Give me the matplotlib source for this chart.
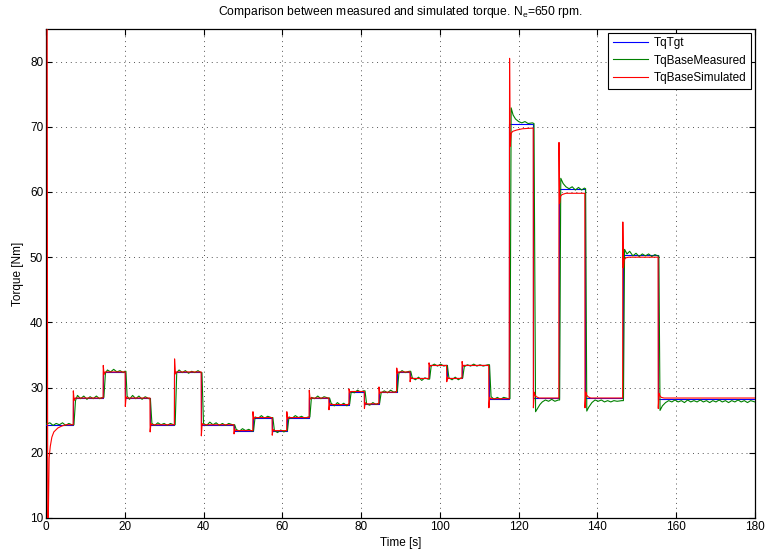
import matplotlib
matplotlib.use('Agg')
import matplotlib.pyplot as plt

plt.rcParams['font.family'] = ['Liberation Sans', 'DejaVu Sans']
plt.rcParams['mathtext.fontset'] = 'custom'
plt.rcParams['mathtext.rm'] = 'Liberation Sans'

# target torque: step times [s] and levels [Nm]
tgt_time = [0, 6.85, 14.5, 20.1, 26.4, 32.6, 39.4, 47.7, 52.5, 57.4, 61.1, 66.8, 71.8, 76.9,
            80.8, 84.5, 89.0, 92.4, 97.2, 101.7, 105.6, 112.4, 117.6, 123.7, 130.2, 136.8,
            146.4, 155.4, 180]
tgt_level = [24.3, 28.4, 32.4, 28.4, 24.3, 32.4, 24.3, 23.4, 25.4, 23.4, 25.4, 28.4, 27.4, 29.4,
             27.5, 29.3, 32.4, 31.4, 33.4, 31.4, 33.4, 28.3, 70.4, 28.4, 60.4, 28.4,
             50.4, 28.3, 28.3]

# measured torque
meas_time = [0, 1, 1.8, 2.6, 3.4, 4.2, 5, 5.8, 6.6, 7.1, 7.5, 8, 8.8, 9.6, 10.4, 11.2, 12, 12.8, 13.6, 14.4,
             14.7, 15.1, 15.6, 16.4, 17.2, 18, 18.8, 19.6, 20.0,
             20.3, 20.6, 21.2, 22, 22.8, 23.6, 24.4, 25.2, 26.1,
             26.5, 26.9, 27.6, 28.4, 29.2, 30, 30.8, 31.6, 32.4,
             32.8, 33.2, 33.8, 34.6, 35.4, 36.2, 37, 37.8, 38.6, 39.3,
             39.6, 40, 40.8, 41.6, 42.4, 43.2, 44, 44.8, 45.6, 46.4, 47.4,
             47.9, 48.3, 49.1, 49.9, 50.7, 51.5, 52.3,
             52.7, 53.1, 53.9, 54.7, 55.5, 56.3, 57.2,
             57.6, 58, 58.8, 59.6, 60.4, 61,
             61.3, 61.7, 62.5, 63.3, 64.1, 64.9, 65.7, 66.6,
             67, 67.4, 68.2, 69, 69.8, 70.6, 71.6,
             72, 72.4, 73.2, 74, 74.8, 75.6, 76.4, 76.8,
             77.1, 77.5, 78.3, 79.1, 79.9, 80.6,
             81, 81.4, 82.2, 83, 83.8, 84.4,
             84.7, 85.1, 85.9, 86.7, 87.5, 88.3, 88.9,
             89.2, 89.6, 90.4, 91.2, 92.2,
             92.6, 93, 93.8, 94.6, 95.4, 96.2, 97,
             97.4, 97.8, 98.6, 99.4, 100.2, 101, 101.6,
             101.9, 102.3, 103.1, 103.9, 104.7, 105.4,
             105.8, 106.2, 107, 107.8, 108.6, 109.4, 110.2, 111, 112.2,
             112.6, 113, 113.8, 114.6, 115.4, 116.2, 117.4,
             117.8, 118.1, 118.6, 119.2, 120, 120.8, 121.6, 122.4, 123.5,
             123.9, 124.3, 124.8, 125.4, 126, 126.8, 127.6, 128.4, 129.2, 130.1,
             130.4, 130.7, 131.3, 132, 132.8, 133.6, 134.4, 135.2, 136, 136.7,
             137, 137.3, 137.8, 138.6, 139.4, 140.2, 141, 141.8, 142.6, 143.4, 144.2, 145, 146.2,
             146.6, 146.9, 147.5, 148.2, 149, 149.8, 150.6, 151.4, 152.2, 153, 153.8, 154.6, 155.3,
             155.6, 155.9, 156.5, 157.3, 158.1, 158.9, 159.7, 160.5, 161.3, 162.1, 162.9, 163.7,
             164.5, 165.3, 166.1, 166.9, 167.7, 168.5, 169.3, 170.1, 170.9, 171.7, 172.5, 173.3,
             174.1, 174.9, 175.7, 176.5, 177.3, 178.1, 178.9, 180]
meas_val = [24.4, 24.6, 24.2, 24.5, 24.3, 24.6, 24.2, 24.5, 24.3, 24.3, 28.0, 28.8, 28.3, 28.7, 28.2, 28.6, 28.3, 28.7, 28.3, 28.5,
            28.5, 32.2, 32.7, 32.4, 32.8, 32.4, 32.6, 32.3, 32.5,
            32.5, 28.7, 28.2, 28.8, 28.3, 28.7, 28.2, 28.6, 28.3,
            28.3, 24.5, 24.2, 24.6, 24.3, 24.5, 24.2, 24.5, 24.3,
            24.3, 32.3, 32.7, 32.3, 32.6, 32.2, 32.5, 32.3, 32.6, 32.3,
            32.3, 24.5, 24.2, 24.7, 24.3, 24.6, 24.2, 24.5, 24.2, 24.5, 24.3,
            24.3, 23.6, 23.3, 23.7, 23.4, 23.6, 23.3,
            23.4, 25.5, 25.3, 25.7, 25.3, 25.6, 25.4,
            25.4, 23.4, 23.1, 23.5, 23.2, 23.4,
            23.4, 25.5, 25.3, 25.7, 25.4, 25.6, 25.3, 25.5,
            25.5, 28.5, 28.3, 28.7, 28.3, 28.6, 28.4,
            28.4, 27.6, 27.2, 27.7, 27.3, 27.6, 27.2, 27.5,
            27.5, 29.4, 29.2, 29.6, 29.3, 29.5,
            29.5, 27.5, 27.3, 27.7, 27.4, 27.6,
            27.6, 29.2, 29.5, 29.2, 29.6, 29.3, 29.4,
            29.4, 32.2, 32.6, 32.3, 32.5,
            32.5, 31.5, 31.2, 31.6, 31.1, 31.5, 31.3,
            31.3, 33.3, 33.6, 33.3, 33.6, 33.3, 33.4,
            33.4, 31.5, 31.2, 31.6, 31.2, 31.5,
            31.5, 33.2, 33.5, 33.3, 33.6, 33.3, 33.5, 33.3, 33.5,
            33.5, 28.6, 28.2, 28.5, 28.2, 28.5, 28.3,
            28.3, 72.9, 71.8, 71.2, 70.8, 70.6, 70.8, 70.5, 70.6,
            70.5, 26.3, 26.8, 27.4, 27.8, 28.1, 27.9, 28.2, 27.9, 28.1,
            28.1, 62.1, 61.3, 60.8, 60.5, 60.8, 60.3, 60.7, 60.3, 60.6,
            60.5, 26.4, 27.0, 27.7, 28.1, 27.9, 28.1, 27.8, 28.0, 27.8, 28.0, 27.9, 28.0,
            28.0, 51.2, 50.5, 50.9, 50.2, 50.6, 50.1, 50.5, 50.2, 50.5, 50.1, 50.4, 50.2,
            50.2, 26.5, 27.2, 27.7, 28.0, 27.8, 28.1, 27.8, 28.0, 27.7, 28.1, 27.8,
            28.0, 27.8, 28.1, 27.8, 28.0, 27.7, 28.0, 27.8, 28.1, 27.8, 28.0, 27.7,
            28.0, 27.8, 28.1, 27.8, 28.0, 27.7, 28.0, 27.8]

# simulated torque
sim_time = [0, 0.3, 0.45, 0.6, 0.8, 1.1, 1.5, 2, 3, 4, 5, 6.9,
            6.95, 7.15, 7.4, 14.5, 14.55, 14.75, 15.0, 20.1, 20.15, 20.35, 20.6,
            26.4, 26.45, 26.65, 26.9, 32.6, 32.65, 32.85, 33.1, 39.4, 39.45, 39.65, 39.9,
            47.7, 47.75, 47.95, 48.2, 52.5, 52.55, 52.75, 53.0, 57.4, 57.45, 57.65, 57.9,
            61.1, 61.15, 61.35, 61.6, 66.8, 66.85, 67.05, 67.3, 71.8, 71.85, 72.05, 72.3,
            76.9, 76.95, 77.15, 77.4, 80.8, 80.85, 81.05, 81.3, 84.5, 84.55, 84.75, 85.0,
            89.0, 89.05, 89.25, 89.5, 92.4, 92.45, 92.65, 92.9, 97.2, 97.25, 97.45, 97.7,
            101.7, 101.75, 101.95, 102.2, 105.6, 105.65, 105.85, 106.1, 112.4, 112.45, 112.65, 112.9,
            117.6, 117.7, 117.85, 118.1, 118.5, 119.5, 121, 123.7,
            123.75, 123.95, 124.1, 124.5, 125.2, 130.2,
            130.25, 130.4, 130.6, 131, 132, 136.8,
            136.85, 137.05, 137.2, 137.6, 138.3, 146.4,
            146.45, 146.6, 146.8, 147.2, 148, 155.4,
            155.45, 155.65, 155.8, 156.2, 156.9, 180]
sim_val = [86, 86, 10, 10, 19.2, 21.0, 22.4, 23.2, 23.8, 24.1, 24.3, 24.3,
           29.5, 28.0, 28.4, 28.4, 33.4, 32.0, 32.4, 32.4, 27.1, 28.6, 28.4,
           28.4, 23.2, 24.5, 24.3, 24.3, 34.4, 32.1, 32.4, 32.4, 22.6, 24.5, 24.3,
           24.3, 22.9, 23.6, 23.4, 23.4, 26.3, 25.2, 25.4, 25.4, 22.7, 23.6, 23.4,
           23.4, 26.3, 25.2, 25.4, 25.4, 29.6, 28.2, 28.4, 28.4, 26.6, 27.6, 27.4,
           27.4, 29.8, 29.2, 29.4, 29.4, 26.8, 27.7, 27.5, 27.5, 30.1, 29.1, 29.3,
           29.3, 33.0, 32.2, 32.4, 32.4, 30.9, 31.6, 31.4, 31.4, 33.8, 33.2, 33.4,
           33.4, 30.9, 31.6, 31.4, 31.4, 34.0, 33.2, 33.4, 33.4, 26.9, 28.5, 28.3,
           28.3, 80.5, 67.0, 69.0, 69.3, 69.5, 69.7, 69.8,
           26.9, 29.3, 28.9, 28.6, 28.4, 28.4,
           67.6, 58.3, 59.3, 59.6, 59.8, 59.8,
           26.9, 29.3, 28.9, 28.6, 28.4, 28.4,
           55.4, 48.4, 49.6, 49.9, 50.0, 50.0,
           26.8, 29.1, 28.8, 28.5, 28.4, 28.4]

fig = plt.figure(figsize=(7.66, 5.52), dpi=100)
ax = fig.add_axes([0.060, 0.0616, 0.9256, 0.8859])

# lines above the axes box, like the original
ax.step(tgt_time, tgt_level, where='post', color=(0, 0, 1), lw=0.8, label='TqTgt', zorder=3)
ax.plot(meas_time, meas_val, color=(0, 0.5, 0), lw=0.8, label='TqBaseMeasured', zorder=3)
ax.plot(sim_time, sim_val, color=(1, 0, 0), lw=0.8, label='TqBaseSimulated', zorder=3)

ax.set_xlim(0, 180)
ax.set_ylim(10, 85)
ax.set_xticks(range(0, 181, 20))
ax.set_yticks(range(10, 81, 10))
ax.tick_params(direction='in', top=True, right=True, labelsize=8.5, length=4, width=0.8, pad=2)
ax.grid(True, linestyle=(0, (1, 4)), color='#555555', lw=0.7)
for s in ax.spines.values():
    s.set_linewidth(0.9)

ax.set_xlabel('Time [s]', fontsize=8.5, labelpad=3)
ax.set_ylabel('Torque [Nm]', fontsize=8.5, labelpad=4)
ax.set_title(r'Comparison between measured and simulated torque. N$_{\mathrm{e}}$=650 rpm.',
             fontsize=8.7, pad=10)

leg = ax.legend(loc='upper right', fontsize=8.5, fancybox=False, framealpha=1,
                edgecolor='black', borderaxespad=0.3, handlelength=3.0,
                labelspacing=0.45, borderpad=0.4, handletextpad=0.5)
leg.get_frame().set_linewidth(0.8)

fig.savefig('out.png', dpi=100)
